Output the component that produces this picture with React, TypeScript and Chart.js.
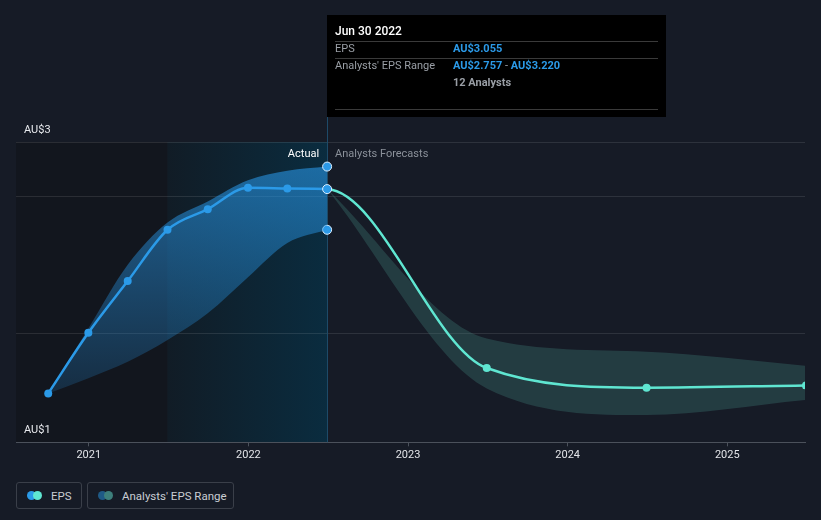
import React, { useEffect, useRef } from 'react';
import { Chart, registerables } from 'chart.js';

Chart.register(...registerables);

// ---- data ----
const actualDates = ['2020-09-30', '2020-12-31', '2021-03-31', '2021-06-30', '2021-09-30', '2021-12-31', '2022-03-31', '2022-06-30'];
const actualEps = [1.558, 2.002, 2.381, 2.757, 2.908, 3.065, 3.06, 3.055];
const actualHigh = [1.558, 2.034, 2.5, 2.81, 2.965, 3.12, 3.19, 3.22];
const actualLow = [1.558, 1.67, 1.79, 1.95, 2.146, 2.41, 2.66, 2.757];

const forecastDates = ['2022-06-30', '2023-06-30', '2024-06-30', '2025-06-30'];
const forecastEps = [3.055, 1.744, 1.6, 1.617];
const forecastHigh = [3.055, 1.96, 1.863, 1.76];
const forecastLow = [3.055, 1.595, 1.4, 1.51];

const yearTicks = [2021, 2022, 2023, 2024, 2025];
const yGridValues = [2, 3];
const analystCount = 12;
const currency = 'AU$';
const pastPeriodStart = '2021-06-30';

const MONTHS = ['Jan', 'Feb', 'Mar', 'Apr', 'May', 'Jun', 'Jul', 'Aug', 'Sep', 'Oct', 'Nov', 'Dec'];

function toYear(s: string): number {
  const [y, m, d] = s.split('-').map(Number);
  const start = Date.UTC(y, 0, 1);
  const end = Date.UTC(y + 1, 0, 1);
  return y + (Date.UTC(y, m - 1, d) - start) / (end - start);
}
function fmtDate(s: string): string {
  const [y, m, d] = s.split('-').map(Number);
  return `${MONTHS[m - 1]} ${d} ${y}`;
}

const X_MIN = 2020.544;
const X_MAX = 2025.487;
const Y_MIN = 1.2;
const Y_MAX = 3.4;

const BG = '#161b26';
const BLUE = '#2b9ae8';
const TEAL = '#5fe6d1';
const FONT = 'Roboto, "Open Sans", sans-serif';

export default function App() {
  const ref = useRef<HTMLCanvasElement | null>(null);

  useEffect(() => {
    document.body.style.margin = '0';
    document.body.style.background = BG;
    const canvas = ref.current;
    if (!canvas) return;
    Chart.defaults.font.family = FONT;

    const last = actualDates.length - 1;
    const lastX = toYear(actualDates[last]);

    const pts = (dates: string[], vals: number[]) => dates.map((d, i) => ({ x: toYear(d), y: vals[i] }));

    const bgPlugin = {
      id: 'bgRegions',
      beforeDraw(chart: any) {
        const { ctx, chartArea, scales } = chart;
        ctx.save();
        ctx.fillStyle = BG;
        ctx.fillRect(0, 0, chart.width, chart.height);
        const xs = scales.x;
        const xStart = xs.getPixelForValue(toYear(pastPeriodStart));
        const xEnd = xs.getPixelForValue(lastX);
        ctx.fillStyle = '#12161e';
        ctx.fillRect(chartArea.left, chartArea.top, xStart - chartArea.left, chartArea.bottom - chartArea.top);
        const g = ctx.createLinearGradient(xStart, 0, xEnd, 0);
        g.addColorStop(0, '#111c26');
        g.addColorStop(1, '#0a2c3f');
        ctx.fillStyle = g;
        ctx.fillRect(xStart, chartArea.top, xEnd - xStart, chartArea.bottom - chartArea.top);
        ctx.restore();
      },
      beforeDatasetsDraw(chart: any) {
        const { ctx, chartArea, scales } = chart;
        const x = Math.round(scales.x.getPixelForValue(lastX)) + 0.5;
        ctx.save();
        ctx.strokeStyle = '#1d4a68';
        ctx.lineWidth = 1;
        ctx.beginPath();
        ctx.moveTo(x, chartArea.top - 25);
        ctx.lineTo(x, chartArea.bottom);
        ctx.stroke();
        ctx.restore();
      },
      afterDatasetsDraw(chart: any) {
        const { ctx, chartArea, scales } = chart;
        const x = scales.x.getPixelForValue(lastX);
        ctx.save();
        ctx.font = `11px ${FONT}`;
        ctx.textBaseline = 'middle';
        ctx.textAlign = 'right';
        ctx.fillStyle = '#ffffff';
        ctx.fillText('Actual', x - 8, chartArea.top + 12.5);
        ctx.textAlign = 'left';
        ctx.fillStyle = '#8b919a';
        ctx.fillText('Analysts Forecasts', x + 8, chartArea.top + 12.5);
        ctx.restore();
      },
      afterDraw(chart: any) {
        const { ctx, chartArea, scales } = chart;
        const x0 = Math.round(scales.x.getPixelForValue(lastX));
        const top = chartArea.top - 127;
        const w = 339;
        const h = 102;
        ctx.save();
        ctx.fillStyle = '#000000';
        ctx.fillRect(x0, top, w, h);
        ctx.textBaseline = 'middle';
        ctx.textAlign = 'left';
        ctx.font = `500 12px ${FONT}`;
        ctx.fillStyle = '#ffffff';
        ctx.fillText(fmtDate(actualDates[last]), x0 + 8, top + 16.5);
        ctx.strokeStyle = '#3a3a3a';
        ctx.lineWidth = 1;
        [26, 43, 94].forEach((dy) => {
          ctx.beginPath();
          ctx.moveTo(x0 + 8, top + dy + 0.5);
          ctx.lineTo(x0 + w - 8, top + dy + 0.5);
          ctx.stroke();
        });
        const vx = x0 + 126;
        ctx.font = `11px ${FONT}`;
        ctx.fillStyle = '#9a9fa6';
        ctx.fillText('EPS', x0 + 8, top + 34.5);
        ctx.fillText("Analysts' EPS Range", x0 + 8, top + 51);
        ctx.font = `bold 11px ${FONT}`;
        ctx.fillStyle = BLUE;
        ctx.fillText(currency + actualEps[last].toFixed(3), vx, top + 34.5);
        const lowTxt = currency + actualLow[last].toFixed(3);
        const highTxt = currency + actualHigh[last].toFixed(3);
        ctx.fillText(lowTxt, vx, top + 51);
        let cx = vx + ctx.measureText(lowTxt).width;
        ctx.font = `11px ${FONT}`;
        ctx.fillStyle = '#9a9fa6';
        ctx.fillText(' - ', cx, top + 51);
        cx += ctx.measureText(' - ').width;
        ctx.font = `bold 11px ${FONT}`;
        ctx.fillStyle = BLUE;
        ctx.fillText(highTxt, cx, top + 51);
        ctx.fillStyle = '#9a9fa6';
        ctx.fillText(`${analystCount} Analysts`, vx, top + 68);
        ctx.restore();
      },
    };

    const lastRadius = (r: number) => (c: any) => (c.dataIndex === last ? r : 0);

    const actualBandFill = (c: any) => {
      const chart = c.chart;
      const { chartArea, scales } = chart;
      if (!chartArea || !scales.y) return 'rgba(40,150,230,0.4)';
      const yTop = scales.y.getPixelForValue(Math.max(...actualHigh));
      const yBot = scales.y.getPixelForValue(Math.min(...actualLow));
      const g = chart.ctx.createLinearGradient(0, yTop, 0, yBot);
      g.addColorStop(0, 'rgba(40,150,230,0.6)');
      g.addColorStop(1, 'rgba(40,150,230,0.18)');
      return g;
    };

    const chart = new Chart(canvas, {
      type: 'line',
      data: {
        datasets: [
          {
            label: 'EPS',
            data: pts(actualDates, actualEps),
            borderColor: BLUE,
            borderWidth: 2.5,
            cubicInterpolationMode: 'monotone',
            pointRadius: (c: any) => (c.dataIndex === last ? 4.5 : 4),
            pointBackgroundColor: BLUE,
            pointBorderColor: (c: any) => (c.dataIndex === last ? '#dcefff' : BLUE),
            pointBorderWidth: (c: any) => (c.dataIndex === last ? 1 : 0),
            fill: false,
          },
          {
            label: 'EPS forecast',
            data: [{ x: toYear(actualDates[last - 1]), y: actualEps[last - 1] }, ...pts(forecastDates, forecastEps)],
            borderColor: TEAL,
            borderWidth: 2.5,
            cubicInterpolationMode: 'monotone',
            segment: { borderColor: (c: any) => (c.p0DataIndex === 0 ? 'rgba(0,0,0,0)' : TEAL) },
            pointRadius: (c: any) => (c.dataIndex <= 1 ? 0 : 4),
            pointBackgroundColor: TEAL,
            pointBorderWidth: 0,
            fill: false,
          },
          {
            label: 'Range high',
            data: pts(actualDates, actualHigh),
            borderWidth: 0,
            borderColor: 'rgba(0,0,0,0)',
            backgroundColor: actualBandFill,
            cubicInterpolationMode: 'monotone',
            pointRadius: lastRadius(4.5),
            pointBackgroundColor: BLUE,
            pointBorderColor: '#dcefff',
            pointBorderWidth: 1,
            fill: '+1',
          },
          {
            label: 'Range low',
            data: pts(actualDates, actualLow),
            borderWidth: 0,
            borderColor: 'rgba(0,0,0,0)',
            cubicInterpolationMode: 'monotone',
            pointRadius: lastRadius(4.5),
            pointBackgroundColor: BLUE,
            pointBorderColor: '#dcefff',
            pointBorderWidth: 1,
            fill: false,
          },
          {
            label: 'Forecast high',
            data: pts(forecastDates, forecastHigh),
            borderWidth: 0,
            borderColor: 'rgba(0,0,0,0)',
            backgroundColor: 'rgba(66,130,124,0.32)',
            cubicInterpolationMode: 'monotone',
            pointRadius: 0,
            fill: '+1',
          },
          {
            label: 'Forecast low',
            data: pts(forecastDates, forecastLow),
            borderWidth: 0,
            borderColor: 'rgba(0,0,0,0)',
            cubicInterpolationMode: 'monotone',
            pointRadius: 0,
            fill: false,
          },
        ],
      },
      options: {
        animation: false,
        responsive: false,
        maintainAspectRatio: false,
        layout: { padding: { left: 16, right: 16, top: 142, bottom: 6.5 } },
        plugins: { legend: { display: false }, tooltip: { enabled: false } },
        scales: {
          x: {
            type: 'linear',
            min: X_MIN,
            max: X_MAX,
            afterBuildTicks: (s: any) => {
              s.ticks = yearTicks.map((v) => ({ value: v }));
            },
            grid: { drawOnChartArea: false, drawTicks: true, tickLength: 4, color: '#4b515b' },
            border: { display: true, color: '#4b515b', width: 1 },
            ticks: {
              color: '#e2e4e8',
              font: { size: 11 },
              padding: 2,
              maxRotation: 0,
              callback: (v: any) => String(v),
            },
          },
          y: {
            type: 'linear',
            min: Y_MIN,
            max: Y_MAX,
            afterBuildTicks: (s: any) => {
              s.ticks = [Y_MIN, ...yGridValues, Y_MAX].map((v) => ({ value: v }));
            },
            afterFit: (s: any) => {
              s.width = 0;
            },
            grid: { color: 'rgba(255,255,255,0.1)', drawTicks: false },
            border: { display: false },
            ticks: {
              mirror: true,
              padding: 8,
              labelOffset: -12,
              color: '#e8eaee',
              font: { size: 11 },
              callback: (v: any, i: number, arr: any[]) =>
                i === 0 || i === arr.length - 1 ? currency + Math.round(Number(v)) : '',
            },
          },
        },
      } as any,
      plugins: [bgPlugin],
    } as any);

    return () => chart.destroy();
  }, []);

  const boxStyle: React.CSSProperties = {
    boxSizing: 'border-box',
    height: 27,
    border: '1px solid #3a3f49',
    borderRadius: 3,
    display: 'flex',
    alignItems: 'center',
    paddingLeft: 10,
    color: '#c9cdd3',
    fontSize: 11.5,
    fontFamily: FONT,
  };
  const dot = (color: string, left: number): React.CSSProperties => ({
    position: 'absolute',
    left,
    top: 0,
    width: 9,
    height: 9,
    borderRadius: '50%',
    background: color,
  });

  return (
    <div style={{ position: 'absolute', left: 0, top: 0, width: 821, height: 520, background: BG, overflow: 'hidden' }}>
      <canvas ref={ref} width={821} height={470} style={{ display: 'block', width: 821, height: 470 }} />
      <div style={{ display: 'flex', gap: 5, marginLeft: 16, marginTop: 12 }}>
        <div style={{ ...boxStyle, width: 66 }}>
          <span style={{ position: 'relative', width: 15, height: 9, marginRight: 9 }}>
            <span style={dot(BLUE, 0)} />
            <span style={dot(TEAL, 6)} />
          </span>
          <span>EPS</span>
        </div>
        <div style={{ ...boxStyle, width: 147 }}>
          <span style={{ position: 'relative', width: 15, height: 9, marginRight: 9 }}>
            <span style={dot('#1f5a86', 0)} />
            <span style={dot('#3d7f7b', 6)} />
          </span>
          <span>Analysts' EPS Range</span>
        </div>
      </div>
    </div>
  );
}
